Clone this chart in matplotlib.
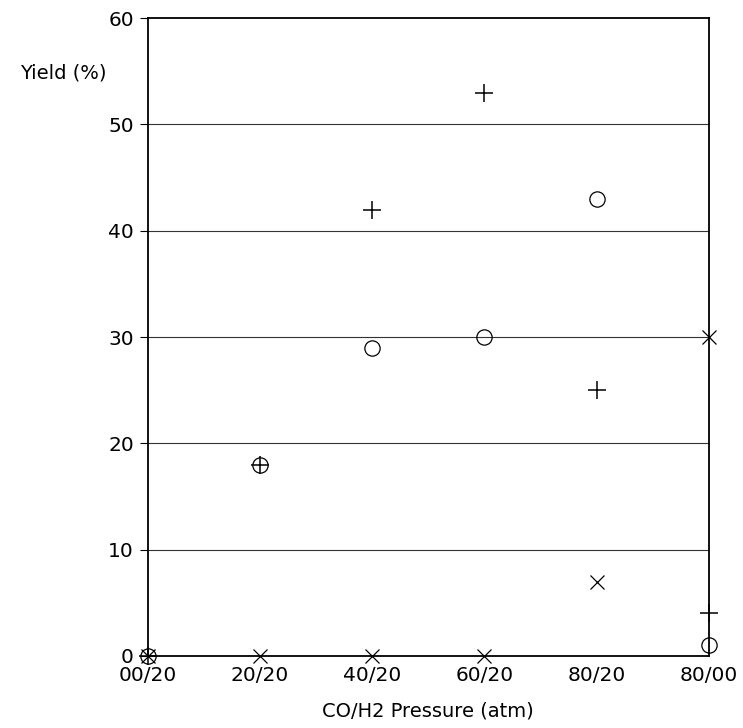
import matplotlib.pyplot as plt

plt.rcParams['font.family'] = ['DejaVu Sans']

# categories along x
pressures = ["00/20", "20/20", "40/20", "60/20", "80/20", "80/00"]
# three series
yield_plus = [0, 18, 42, 53, 25, 4]
yield_circle = [0, 18, 29, 30, 43, 1]
yield_cross = [0, 0, 0, 0, 7, 30]

fig = plt.figure(figsize=(7.43, 7.28), dpi=100)
ax = fig.add_axes([0.199, 0.099, 0.755, 0.876])

xs = list(range(len(pressures)))
for y in [10, 20, 30, 40, 50]:
    ax.axhline(y, color="#333333", lw=0.8, zorder=1)

ax.plot(xs, yield_plus, ls="none", marker="+", ms=13, mew=1.1, color="black", clip_on=False, zorder=3)
ax.plot(xs, yield_circle, ls="none", marker="o", ms=11, mew=0.9, mfc="none", mec="black", clip_on=False, zorder=3)
ax.plot(xs, yield_cross, ls="none", marker="x", ms=10, mew=0.9, color="black", clip_on=False, zorder=3)

ax.set_xlim(0, 5)
ax.set_ylim(0, 60)
ax.set_xticks(xs)
ax.set_xticklabels(pressures, fontsize=14.5)
ax.set_yticks([0, 10, 20, 30, 40, 50, 60])
ax.tick_params(axis="y", labelsize=14.5, length=6, direction="out", pad=4)
ax.tick_params(axis="x", length=0, pad=7)
for s in ax.spines.values():
    s.set_linewidth(1.3)

fig.text(0.027, 0.90, "Yield (%)", fontsize=14, ha="left", va="center")
ax.set_xlabel("CO/H2 Pressure (atm)", fontsize=14, labelpad=12)

plt.savefig("out.png")
